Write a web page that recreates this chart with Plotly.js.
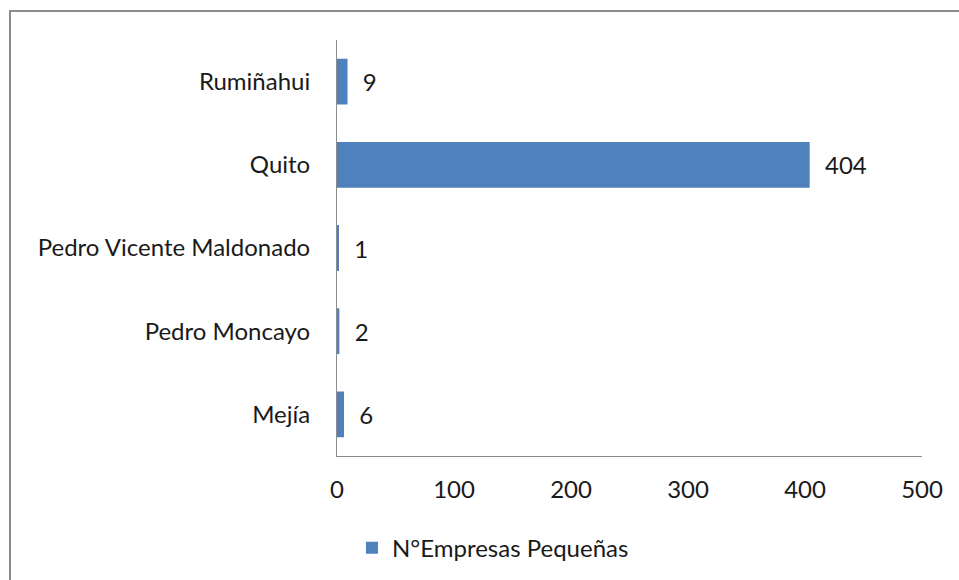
<!DOCTYPE html>
<html>
<head>
<meta charset="utf-8">
<script src="https://cdn.plot.ly/plotly-3.0.1.min.js"></script>
<style>
  html, body { margin: 0; padding: 0; background: #fff; }
  #frame { position: absolute; left: 9px; top: 10px; width: 960px; height: 580px;
           border: 2px solid #8c8c8c; box-sizing: border-box; }
  #graph { position: absolute; left: 0; top: 0; width: 959px; height: 580px; }
</style>
</head>
<body>
<div id="frame"></div>
<div id="graph"></div>
<script>
// cantones, listed bottom to top as in the chart
var cantones = ["Mejía", "Pedro Moncayo", "Pedro Vicente Maldonado", "Quito", "Rumiñahui"];
var empresas = [6, 2, 1, 404, 9];
var xTicks = [0, 100, 200, 300, 400, 500];
var serieName = "N°Empresas Pequeñas";

var graph = document.getElementById("graph");
var font = "Lato, 'Open Sans', sans-serif";

var bars = {
	type: "bar",
	orientation: "h",
	x: empresas,
	y: cantones,
	name: serieName,
	marker: { color: "#4f81bd" },
	text: empresas,
	texttemplate: "  %{x}",
	textposition: "outside",
	cliponaxis: false,
	textfont: { family: font, size: 24, color: "#1a1a1a" },
	hoverinfo: "x+y"
};

var layout = {
	width: 959,
	height: 580,
	margin: { l: 337, r: 37, t: 40, b: 124 },
	paper_bgcolor: "rgba(0,0,0,0)",
	plot_bgcolor: "rgba(0,0,0,0)",
	font: { family: font, size: 24, color: "#1a1a1a" },
	bargap: 0.45,
	showlegend: true,
	legend: {
		orientation: "h",
		x: 0.367, xanchor: "left", xref: "container",
		y: 0.055, yanchor: "middle", yref: "container",
		font: { family: font, size: 24, color: "#1a1a1a" },
		itemwidth: 30
	},
	xaxis: {
		range: [0, 500],
		tickvals: xTicks,
		showgrid: false,
		zeroline: false,
		showline: true,
		linecolor: "#8c8c8c",
		linewidth: 1,
		ticks: "",
		ticklabelstandoff: 12
	},
	yaxis: {
		type: "category",
		showgrid: false,
		zeroline: false,
		showline: true,
		linecolor: "#8c8c8c",
		linewidth: 1,
		ticks: "",
		ticklabelstandoff: 21
	}
};

Plotly.newPlot(graph, [bars], layout, { displayModeBar: false });
</script>
</body>
</html>
